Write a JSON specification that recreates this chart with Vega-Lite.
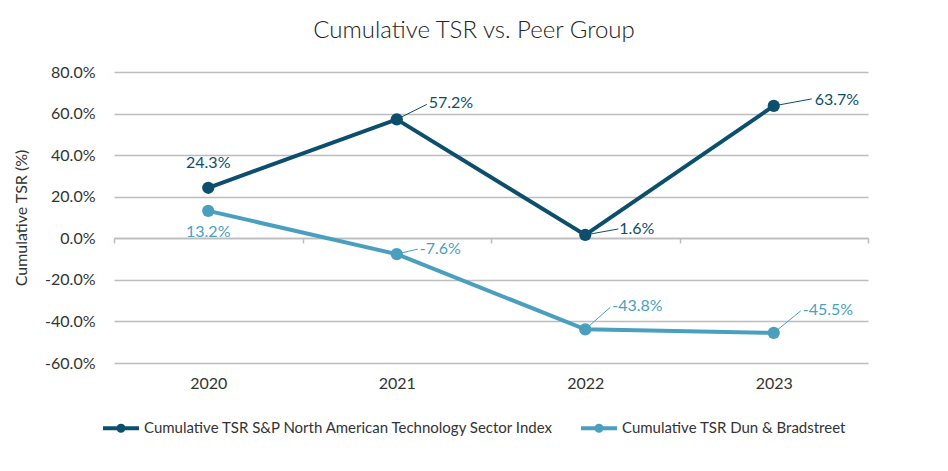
{
  "$schema": "https://vega.github.io/schema/vega-lite/v6.json",
  "width": 754,
  "height": 291,
  "autosize": {"type": "pad"},
  "padding": {"left": 13, "top": 19, "right": 10, "bottom": 10},
  "background": "white",
  "config": {
    "font": "Lato",
    "locale": {"number": {"decimal": ".", "thousands": ",", "grouping": [3], "currency": ["$", ""], "minus": "-"}},
    "view": {"stroke": null},
    "axis": {"labelFont": "Lato", "titleFont": "Lato", "labelColor": "#333333", "titleColor": "#333333"}
  },
  "title": {
    "text": "Cumulative TSR vs. Peer Group",
    "fontSize": 24,
    "fontWeight": 300,
    "color": "#222222",
    "anchor": "middle",
    "dx": -17,
    "offset": 21
  },
  "data": {
    "values": [
      {"year": "2020", "series": "Cumulative TSR S&P North American Technology Sector Index", "value": 0.243},
      {"year": "2021", "series": "Cumulative TSR S&P North American Technology Sector Index", "value": 0.572},
      {"year": "2022", "series": "Cumulative TSR S&P North American Technology Sector Index", "value": 0.016},
      {"year": "2023", "series": "Cumulative TSR S&P North American Technology Sector Index", "value": 0.637},
      {"year": "2020", "series": "Cumulative TSR Dun & Bradstreet", "value": 0.132},
      {"year": "2021", "series": "Cumulative TSR Dun & Bradstreet", "value": -0.076},
      {"year": "2022", "series": "Cumulative TSR Dun & Bradstreet", "value": -0.438},
      {"year": "2023", "series": "Cumulative TSR Dun & Bradstreet", "value": -0.455}
    ]
  },
  "resolve": {"scale": {"x": "independent"}, "axis": {"x": "independent"}},
  "layer": [
    {
      "mark": {"type": "point", "opacity": 0},
      "encoding": {
        "x": {
          "field": "year", "type": "ordinal",
          "scale": {"type": "band", "paddingInner": 0, "paddingOuter": 0},
          "axis": {
            "orient": "bottom", "offset": -125, "labels": false, "title": null,
            "domain": true, "domainColor": "#bdbdbd", "domainWidth": 1.5,
            "ticks": true, "tickBand": "extent", "tickColor": "#bdbdbd", "tickSize": 5, "tickWidth": 1.5,
            "grid": false
          }
        },
        "y": {"field": "value", "type": "quantitative", "scale": {"domain": [-0.6, 0.8]}}
      }
    },
    {
      "layer": [
        {
          "mark": {"type": "line", "strokeWidth": 4, "point": {"filled": true, "size": 150, "opacity": 1}},
          "encoding": {
            "color": {
              "field": "series", "type": "nominal",
              "scale": {
                "domain": ["Cumulative TSR S&P North American Technology Sector Index", "Cumulative TSR Dun & Bradstreet"],
                "range": ["#0c4f6d", "#4a9fbf"]
              },
              "legend": {
                "orient": "none", "legendX": -13, "legendY": 336, "direction": "horizontal", "title": null,
                "labelFontSize": 15, "labelColor": "#333333", "labelFont": "Lato", "labelLimit": 0,
                "symbolType": "M-1,0L1,0M0.14,0A0.14,0.14,0,1,1,-0.14,0A0.14,0.14,0,1,1,0.14,0Z",
                "symbolSize": 1296, "symbolStrokeWidth": 4, "columnPadding": 18, "labelOffset": 3
              }
            }
          }
        },
        {
          "transform": [{"filter": "datum.year == '2020' && datum.value > 0.2"}],
          "mark": {"type": "text", "fontSize": 16, "align": "center", "baseline": "middle", "dy": -25},
          "encoding": {"text": {"field": "value", "format": ".1%"}, "color": {"field": "series", "type": "nominal"}}
        },
        {
          "transform": [{"filter": "datum.year == '2020' && datum.value < 0.2"}],
          "mark": {"type": "text", "fontSize": 16, "align": "center", "baseline": "middle", "dy": 21},
          "encoding": {"text": {"field": "value", "format": ".1%"}, "color": {"field": "series", "type": "nominal"}}
        },
        {
          "transform": [{"filter": "datum.year == '2021' && datum.value > 0"}],
          "mark": {"type": "text", "fontSize": 16, "align": "left", "baseline": "middle", "dx": 32, "dy": -16},
          "encoding": {"text": {"field": "value", "format": ".1%"}, "color": {"field": "series", "type": "nominal"}}
        },
        {
          "transform": [{"filter": "datum.year == '2021' && datum.value > 0"}],
          "mark": {"type": "rule", "strokeWidth": 1, "x2Offset": 30, "y2Offset": -15},
          "encoding": {"x2": {"field": "year"}, "y2": {"field": "value"}, "color": {"field": "series", "type": "nominal"}}
        },
        {
          "transform": [{"filter": "datum.year == '2021' && datum.value < 0"}],
          "mark": {"type": "text", "fontSize": 16, "align": "left", "baseline": "middle", "dx": 23, "dy": -5},
          "encoding": {"text": {"field": "value", "format": ".1%"}, "color": {"field": "series", "type": "nominal"}}
        },
        {
          "transform": [{"filter": "datum.year == '2021' && datum.value < 0"}],
          "mark": {"type": "rule", "strokeWidth": 1, "x2Offset": 21, "y2Offset": -5},
          "encoding": {"x2": {"field": "year"}, "y2": {"field": "value"}, "color": {"field": "series", "type": "nominal"}}
        },
        {
          "transform": [{"filter": "datum.year == '2022' && datum.value > 0"}],
          "mark": {"type": "text", "fontSize": 16, "align": "left", "baseline": "middle", "dx": 34, "dy": -6},
          "encoding": {"text": {"field": "value", "format": ".1%"}, "color": {"field": "series", "type": "nominal"}}
        },
        {
          "transform": [{"filter": "datum.year == '2022' && datum.value > 0"}],
          "mark": {"type": "rule", "strokeWidth": 1, "x2Offset": 33, "y2Offset": -6},
          "encoding": {"x2": {"field": "year"}, "y2": {"field": "value"}, "color": {"field": "series", "type": "nominal"}}
        },
        {
          "transform": [{"filter": "datum.year == '2022' && datum.value < 0"}],
          "mark": {"type": "text", "fontSize": 16, "align": "left", "baseline": "middle", "dx": 27, "dy": -23},
          "encoding": {"text": {"field": "value", "format": ".1%"}, "color": {"field": "series", "type": "nominal"}}
        },
        {
          "transform": [{"filter": "datum.year == '2022' && datum.value < 0"}],
          "mark": {"type": "rule", "strokeWidth": 1, "x2Offset": 25, "y2Offset": -22},
          "encoding": {"x2": {"field": "year"}, "y2": {"field": "value"}, "color": {"field": "series", "type": "nominal"}}
        },
        {
          "transform": [{"filter": "datum.year == '2023' && datum.value > 0"}],
          "mark": {"type": "text", "fontSize": 16, "align": "left", "baseline": "middle", "dx": 41, "dy": -6},
          "encoding": {"text": {"field": "value", "format": ".1%"}, "color": {"field": "series", "type": "nominal"}}
        },
        {
          "transform": [{"filter": "datum.year == '2023' && datum.value > 0"}],
          "mark": {"type": "rule", "strokeWidth": 1, "x2Offset": 38, "y2Offset": -7},
          "encoding": {"x2": {"field": "year"}, "y2": {"field": "value"}, "color": {"field": "series", "type": "nominal"}}
        },
        {
          "transform": [{"filter": "datum.year == '2023' && datum.value < 0"}],
          "mark": {"type": "text", "fontSize": 16, "align": "left", "baseline": "middle", "dx": 29, "dy": -23},
          "encoding": {"text": {"field": "value", "format": ".1%"}, "color": {"field": "series", "type": "nominal"}}
        },
        {
          "transform": [{"filter": "datum.year == '2023' && datum.value < 0"}],
          "mark": {"type": "rule", "strokeWidth": 1, "x2Offset": 27, "y2Offset": -22},
          "encoding": {"x2": {"field": "year"}, "y2": {"field": "value"}, "color": {"field": "series", "type": "nominal"}}
        }
      ],
      "encoding": {
        "x": {
          "field": "year", "type": "ordinal",
          "scale": {"type": "point", "padding": 0.5},
          "axis": {
            "orient": "bottom", "title": null, "labelAngle": 0, "labelFontSize": 16,
            "labelPadding": 12, "domain": false, "ticks": false, "grid": false
          }
        },
        "y": {
          "field": "value", "type": "quantitative",
          "scale": {"domain": [-0.6, 0.8]},
          "axis": {
            "values": [-0.6, -0.4, -0.2, 0, 0.2, 0.4, 0.6, 0.8],
            "format": ".1%",
            "title": "Cumulative TSR (%)", "titleFontSize": 16, "titleFontWeight": "normal", "titlePadding": 15,
            "labelFontSize": 16, "labelPadding": 19,
            "domain": false, "ticks": false,
            "grid": true, "gridColor": "#bdbdbd", "gridWidth": 1.5
          }
        }
      }
    }
  ]
}
